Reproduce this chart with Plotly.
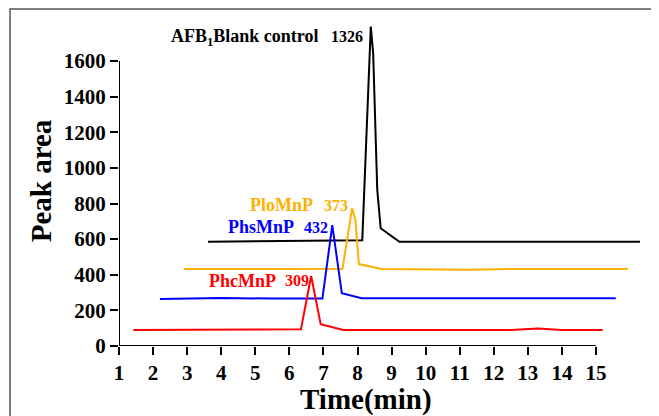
import plotly.graph_objects as go

# ---- data ----
black_t = [3.61, 5.0, 7.0, 8.14, 8.39, 8.46, 8.58, 8.68, 9.23, 16.29]
black_v = [585, 588, 593, 593, 1793, 1643, 876, 661, 585, 585]

orange_t = [2.91, 5.0, 7.56, 7.84, 7.94, 8.04, 8.71, 11.3, 12.5, 15.93]
orange_v = [432, 434, 434, 773, 707, 460, 432, 428, 432, 432]

blue_t = [2.2, 4.0, 5.5, 6.97, 7.26, 7.54, 8.12, 11.0, 11.8, 12.5, 15.58]
blue_v = [264, 270, 266, 266, 679, 296, 268, 268, 272, 268, 268]

red_t = [1.42, 3.0, 4.5, 6.34, 6.64, 6.92, 7.58, 12.5, 13.3, 14.0, 15.2]
red_v = [90, 92, 90, 94, 393, 122, 90, 90, 98, 90, 90]

x_ticks = list(range(1, 16))
y_ticks = [0, 200, 400, 600, 800, 1000, 1200, 1400, 1600]

series_names = ["AFB<sub>1</sub>Blank control", "PloMnP", "PhsMnP", "PhcMnP"]
peak_labels = ["1326", "373", "432", "309"]

BLACK = "#000000"
ORANGE = "#FFB000"
BLUE = "#0000FF"
RED = "#FF0000"
FONT = "Liberation Serif"

fig = go.Figure()
for t, v, c in [(black_t, black_v, BLACK), (orange_t, orange_v, ORANGE),
                (blue_t, blue_v, BLUE), (red_t, red_v, RED)]:
    fig.add_trace(go.Scatter(x=t, y=v, mode="lines",
                             line=dict(color=c, width=2), showlegend=False,
                             hoverinfo="skip"))

def ann(text, x, y, color, size, xanchor="left"):
    fig.add_annotation(x=x, y=y, xref="x", yref="y", text=text, showarrow=False,
                       xanchor=xanchor, yanchor="middle",
                       font=dict(family=FONT, size=size, color=color, weight="bold"))

ann(series_names[0], 2.47, 1730, BLACK, 18)
ann(peak_labels[0], 8.22, 1735, BLACK, 16, xanchor="right")
ann(series_names[1], 4.80, 791, ORANGE, 18)
ann(peak_labels[1], 6.95, 791, ORANGE, 16)
ann(series_names[2], 4.13, 668, BLUE, 18)
ann(peak_labels[2], 6.36, 668, BLUE, 16)
ann(series_names[3], 3.57, 367, RED, 18)
ann(peak_labels[3], 5.80, 367, RED, 16)

# x-axis title
fig.add_annotation(x=0.468, y=-0.163, xref="paper", yref="paper", text="Time(min)",
                   showarrow=False, xanchor="center", yanchor="middle",
                   font=dict(family=FONT, size=29, color="black", weight="bold"))

# axis lines limited to tick span
fig.add_shape(type="line", xref="x", yref="y", x0=1, x1=15, y0=0, y1=0,
              line=dict(color="black", width=2))
fig.add_shape(type="line", xref="x", yref="y", x0=1, x1=1, y0=0, y1=1600,
              line=dict(color="black", width=2))
# outer frame
fig.add_shape(type="rect", xref="paper", yref="paper", x0=-0.2064, x1=1.05,
              y0=-0.3, y1=1.021, line=dict(color="#555555", width=1.5))

fig.update_layout(
    width=651, height=408,
    margin=dict(l=111, r=12, t=8, b=70, autoexpand=False),
    paper_bgcolor="white", plot_bgcolor="white",
    xaxis=dict(range=[1, 16.497], tickvals=x_ticks, ticks="outside", ticklen=8,
               tickwidth=2, tickcolor="black", showline=False, showgrid=False,
               zeroline=False, automargin=False,
               tickfont=dict(family=FONT, size=21, color="black", weight="bold")),
    yaxis=dict(range=[0, 1852.6], tickvals=y_ticks, ticks="outside", ticklen=8,
               tickwidth=2, tickcolor="black", showline=False, showgrid=False,
               zeroline=False, automargin=False,
               tickfont=dict(family=FONT, size=21, color="black", weight="bold"),
               title=dict(text="Peak area", standoff=3,
                          font=dict(family=FONT, size=29, color="black", weight="bold"))),
)

fig.write_html("out.html")
